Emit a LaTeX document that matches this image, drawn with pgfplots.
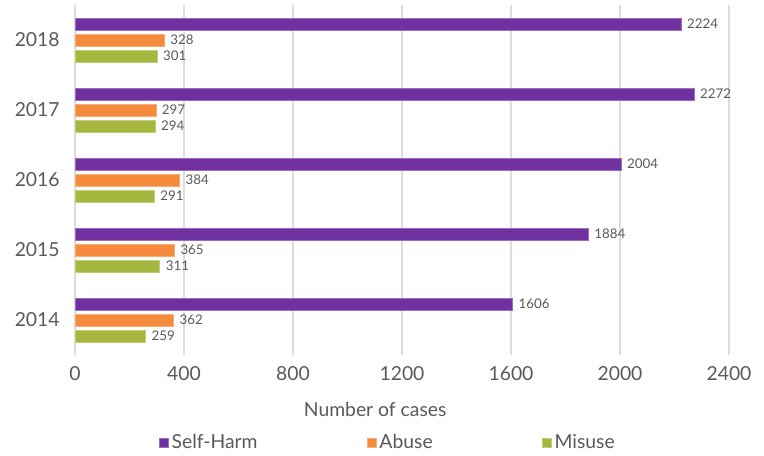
\documentclass[border=0pt]{standalone}
\usepackage{pgfplots}
\pgfplotsset{compat=1.18}
\usepackage{fontspec}
\setmainfont{Lato}

\definecolor{selfharm}{HTML}{7030A0}
\definecolor{abuse}{HTML}{F58A3C}
\definecolor{misuse}{HTML}{A5B73F}
\definecolor{txt}{HTML}{595959}
\definecolor{gridc}{HTML}{DDDDDD}

\begin{document}
\begin{tikzpicture}
    %% keep the reference's page size around the plot box
    \path (-56.25pt,-71.25pt) rectangle (516.75pt,266.25pt);
    \begin{axis}[
        at={(0,0)}, anchor=south west,
        scale only axis,
        width=490.5pt, height=262.5pt,
        xbar, bar width=9pt,
        xmin=0, xmax=2400,
        ymin=-0.5, ymax=4.5,
        xtick={0,400,800,1200,1600,2000,2400},
        ytick={0,1,2,3,4},
        yticklabels={2014,2015,2016,2017,2018},
        xmajorgrids=true,
        grid style={gridc, line width=0.8pt},
        axis line style={draw=none},
        major tick length=0pt,
        /pgf/number format/assume math mode=true,
        /pgf/number format/1000 sep={},
        tick label style={font=\fontsize{14.5}{16}\selectfont, text=txt},
        xticklabel style={yshift=-5pt},
        yticklabel style={xshift=-8pt},
        xlabel={Number of cases},
        xlabel style={font=\fontsize{14.5}{16}\selectfont, text=txt,
            at={(axis description cs:0.459,-0.157)}, anchor=center},
        nodes near coords,
        nodes near coords style={font=\fontsize{10}{11}\selectfont, text=txt,
            anchor=west, xshift=1pt},
        every node near coord/.append style={/pgf/number format/assume math mode=true},
        legend columns=3,
        legend style={at={(0.479,-0.25)}, anchor=center, draw=none,
            font=\fontsize{14.5}{16}\selectfont, text=txt,
            /tikz/every even column/.append style={column sep=80pt}},
        legend image code/.code={\fill[#1] (-2pt,-3.5pt) rectangle (5pt,3.5pt);},
    ]
        %% data
        \addplot[fill=selfharm, draw=selfharm!70!white, line width=0.4pt, bar shift=12pt]
            coordinates {(1606,0)(1884,1)(2004,2)(2272,3)(2224,4)};
        \addlegendentry{Self-Harm}
        \addplot[fill=abuse, draw=abuse!70!white, line width=0.4pt, bar shift=0pt]
            coordinates {(362,0)(365,1)(384,2)(297,3)(328,4)};
        \addlegendentry{Abuse}
        \addplot[fill=misuse, draw=misuse!70!white, line width=0.4pt, bar shift=-12pt]
            coordinates {(259,0)(311,1)(291,2)(294,3)(301,4)};
        \addlegendentry{Misuse}
    \end{axis}
\end{tikzpicture}
\end{document}
